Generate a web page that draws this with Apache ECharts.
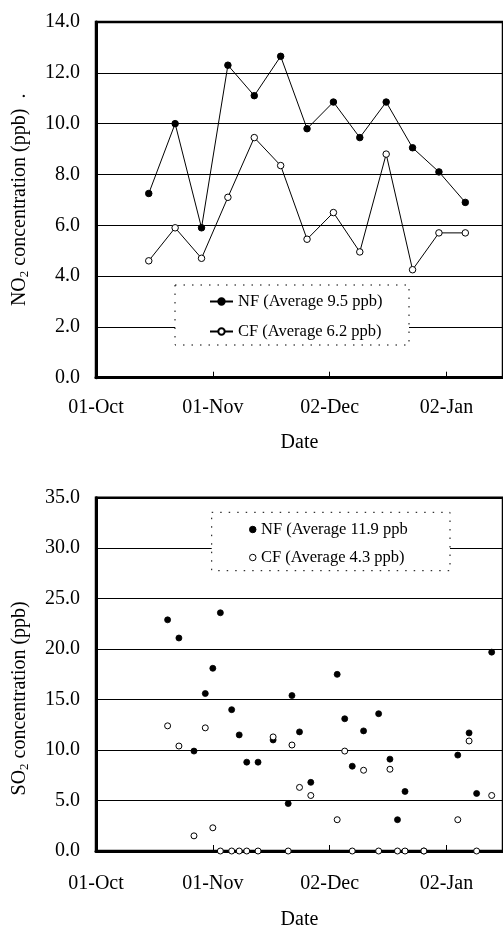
<!DOCTYPE html>
<html>
<head>
<meta charset="utf-8">
<script src="https://cdn.jsdelivr.net/npm/echarts@6/dist/echarts.min.js"></script>
<style>
html,body{margin:0;padding:0;background:#fff;}
#c{width:503px;height:931px;}
</style>
</head>
<body>
<div id="c"></div>
<script>
// ---- data (x = days after 01-Oct) ----
const xTickDays = [0, 31, 62, 93];
const xTickLabels = ['01-Oct', '01-Nov', '02-Dec', '02-Jan'];

const no2Days = [14, 21, 28, 35, 42, 49, 56, 63, 70, 77, 84, 91, 98];
const no2NF = [7.25, 10.0, 5.9, 12.3, 11.1, 12.65, 9.8, 10.85, 9.45, 10.85, 9.05, 8.1, 6.9];
const no2CF = [4.6, 5.9, 4.7, 7.1, 9.45, 8.35, 5.45, 6.5, 4.95, 8.8, 4.25, 5.7, 5.7];
const no2Names = ['NF (Average 9.5 ppb)', 'CF (Average 6.2 ppb)'];

const so2Days = [19, 22, 26, 29, 31, 33, 36, 38, 40, 43, 47, 51, 52, 54, 57, 64, 66, 68, 71, 75, 78, 80, 82, 87, 96, 99, 101, 105];
const so2NF = [22.9, 21.1, 9.9, 15.6, 18.1, 23.6, 14.0, 11.5, 8.8, 8.8, 11.0, 4.7, 15.4, 11.8, 6.8, 17.5, 13.1, 8.4, 11.9, 13.6, 9.1, 3.1, 5.9, 0, 9.5, 11.7, 5.7, 19.7];
const so2CF = [12.4, 10.4, 1.5, 12.2, 2.3, 0, 0, 0, 0, 0, 11.3, 0, 10.5, 6.3, 5.5, 3.1, 9.9, 0, 8.0, 0, 8.1, 0, 0, 0, 3.1, 10.9, 0, 5.5];
const so2Names = ['NF (Average 11.9 ppb', 'CF (Average 4.3 ppb)'];

const FONT = '"Liberation Serif", "Times New Roman", serif';
const pair = (xs, ys) => xs.map((x, i) => [x, ys[i]]);

function xAxisCfg(gridIndex, labelMargin, nameGap) {
  return {
    type: 'value', gridIndex, min: 0, max: 108, interval: 31,
    name: 'Date', nameLocation: 'middle', nameGap,
    nameTextStyle: { fontFamily: FONT, fontSize: 20, color: '#000' },
    axisLine: { show: true, lineStyle: { color: '#000', width: 3 } },
    axisTick: { show: true, inside: true, length: 6, lineStyle: { color: '#000', width: 1 } },
    axisLabel: {
      fontFamily: FONT, fontSize: 20, color: '#000', margin: labelMargin, showMaxLabel: false,
      formatter: v => { const i = xTickDays.indexOf(v); return i >= 0 ? xTickLabels[i] : ''; }
    },
    splitLine: { show: false }
  };
}
function yAxisCfg(gridIndex, max, interval, name, pad) {
  return {
    type: 'value', gridIndex, min: 0, max, interval,
    name, nameLocation: 'middle', nameGap: 65,
    nameTextStyle: {
      fontFamily: FONT, fontSize: 20, color: '#000', padding: pad,
      rich: {
        a: { fontFamily: FONT, fontSize: 20, color: '#000' },
        s: { fontFamily: FONT, fontSize: 13, color: '#000', padding: [10, 0, 0, 0] }
      }
    },
    axisLine: { show: true, onZero: false, lineStyle: { color: '#000', width: 3 } },
    axisTick: { show: false },
    axisLabel: { fontFamily: FONT, fontSize: 20, color: '#000', margin: 16, formatter: v => v.toFixed(1) },
    splitLine: { show: true, lineStyle: { color: '#000', width: 1 } }
  };
}

const chart = echarts.init(document.getElementById('c'), null, { renderer: 'canvas' });
chart.setOption({
  backgroundColor: '#fff',
  animation: false,
  grid: [
    { left: 96, top: 22, width: 411.8, height: 355.7, show: true, borderColor: '#000', borderWidth: 2.5 },
    { left: 96, top: 497.7, width: 408.2, height: 356.6, show: true, borderColor: '#000', borderWidth: 2.5 }
  ],
  xAxis: [xAxisCfg(0, 20, 55), xAxisCfg(1, 23, 59)],
  yAxis: [
    yAxisCfg(0, 14, 2, '{a|NO}{s|2}{a| concentration (ppb)  .}', [0, 0, 0, 0]),
    yAxisCfg(1, 35, 5, '{a|SO}{s|2}{a| concentration (ppb)}', [0, 48, 0, 0])
  ],
  legend: [
    {
      data: no2Names, orient: 'vertical', left: 209, top: 293, itemGap: 13, padding: 0,
      itemWidth: 23, itemHeight: 8, selectedMode: false, z: 10,
      textStyle: { fontFamily: FONT, fontSize: 16.5, color: '#000' }
    },
    {
      data: so2Names, orient: 'vertical', left: 249, top: 521, itemGap: 11, padding: 0,
      itemWidth: 6.5, itemHeight: 6.5, selectedMode: false, z: 10,
      itemStyle: { borderWidth: 1 },
      textStyle: { fontFamily: FONT, fontSize: 16.5, color: '#000' }
    }
  ],
  graphic: [
    { type: 'rect', z: 5, shape: { x: 175, y: 285, width: 234, height: 60 },
      style: { fill: '#fff', stroke: '#000', lineWidth: 1, lineDash: [1.5, 7] } },
    { type: 'rect', z: 5, shape: { x: 211.7, y: 512.3, width: 238.3, height: 58.4 },
      style: { fill: '#fff', stroke: '#000', lineWidth: 1, lineDash: [1.5, 7] } }
  ],
  series: [
    { name: no2Names[0], type: 'line', xAxisIndex: 0, yAxisIndex: 0, data: pair(no2Days, no2NF),
      symbol: 'circle', symbolSize: 6.5, lineStyle: { color: '#000', width: 1 },
      itemStyle: { color: '#000', borderColor: '#000', borderWidth: 1 } },
    { name: no2Names[1], type: 'line', xAxisIndex: 0, yAxisIndex: 0, data: pair(no2Days, no2CF),
      symbol: 'circle', symbolSize: 6.5, lineStyle: { color: '#000', width: 1 },
      itemStyle: { color: '#fff', borderColor: '#000', borderWidth: 1 } },
    { name: so2Names[0], type: 'scatter', xAxisIndex: 1, yAxisIndex: 1, data: pair(so2Days, so2NF),
      symbol: 'circle', symbolSize: 6, clip: false,
      itemStyle: { color: '#000', borderColor: '#000', borderWidth: 0.8, opacity: 1 } },
    { name: so2Names[1], type: 'scatter', xAxisIndex: 1, yAxisIndex: 1, data: pair(so2Days, so2CF),
      symbol: 'circle', symbolSize: 6, clip: false, z: 3,
      itemStyle: { color: '#fff', borderColor: '#000', borderWidth: 1, opacity: 1 } }
  ]
});
</script>
</body>
</html>
